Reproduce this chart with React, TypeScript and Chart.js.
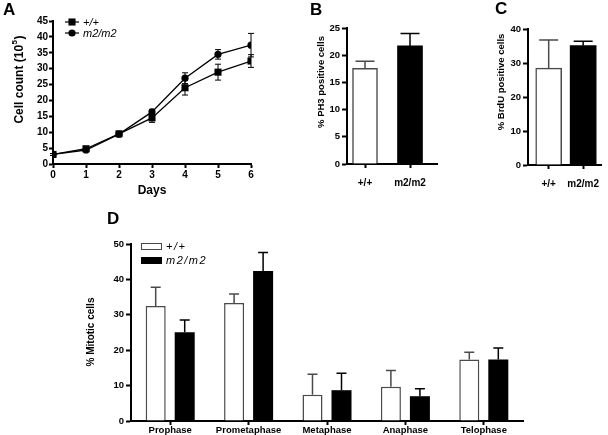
import React, { useEffect, useRef } from 'react';
import { Chart, registerables } from 'chart.js';

Chart.register(...registerables);

const FONT = '"Liberation Sans", Arial, Helvetica, sans-serif';

// ---------- Panel A : growth curve ----------
const days = [0, 1, 2, 3, 4, 5, 6];
const genotypes = ['+/+', 'm2/m2'];
const wtCount = [3.0, 4.8, 9.5, 14.5, 24.0, 28.9, 32.4];
const wtCountErr = [0.3, 0.4, 0.6, 1.4, 2.3, 2.5, 2.0];
const mutCount = [3.0, 4.4, 9.4, 16.4, 27.0, 34.5, 37.4];
const mutCountErr = [0.3, 0.4, 0.5, 0.8, 1.7, 1.5, 3.7];

// ---------- Panel B : PH3 ----------
const ph3Pct = [17.6, 21.7];
const ph3Err = [1.3, 2.3];

// ---------- Panel C : BrdU ----------
const brduPct = [28.5, 35.1];
const brduErr = [8.3, 1.3];

// ---------- Panel D : mitotic phases ----------
const phases = ['Prophase', 'Prometaphase', 'Metaphase', 'Anaphase', 'Telophase'];
const wtMitotic = [32.5, 33.3, 7.4, 9.7, 17.4];
const wtMitoticErr = [5.3, 2.6, 5.8, 4.6, 2.0];
const mutMitotic = [25.1, 42.4, 8.7, 7.0, 17.4];
const mutMitoticErr = [3.4, 5.2, 4.8, 2.1, 3.2];

const WHITE_EDGE = '#4a4a4a';

function drawErrBars(chart: any) {
  const ctx = chart.ctx;
  const ys = chart.scales.y;
  chart.data.datasets.forEach((ds: any, di: number) => {
    if (!ds.errors) return;
    const meta = chart.getDatasetMeta(di);
    meta.data.forEach((el: any, i: number) => {
      const raw = ds.data[i];
      const v = typeof raw === 'number' ? raw : raw.y;
      const e = ds.errors[i];
      if (!e) return;
      const color = Array.isArray(ds.errColor) ? ds.errColor[i] : ds.errColor;
      const cap = ds.errCap / 2;
      const top = ys.getPixelForValue(v + e);
      const bottom = ds.errBoth ? ys.getPixelForValue(v - e) : el.y;
      ctx.save();
      ctx.strokeStyle = color;
      ctx.lineWidth = ds.errWidth || 1;
      ctx.beginPath();
      ctx.moveTo(el.x, bottom);
      ctx.lineTo(el.x, top);
      ctx.moveTo(el.x - cap, top);
      ctx.lineTo(el.x + cap, top);
      if (ds.errBoth) {
        ctx.moveTo(el.x - cap, bottom);
        ctx.lineTo(el.x + cap, bottom);
      }
      ctx.stroke();
      ctx.restore();
    });
  });
}

const errBarsPlugin = {
  id: 'errBars',
  beforeDatasetsDraw(chart: any) {
    if (chart.config.type === 'line') drawErrBars(chart);
  },
  afterDatasetsDraw(chart: any) {
    if (chart.config.type !== 'line') drawErrBars(chart);
  },
};

const yTitlePlugin = {
  id: 'yTitle',
  afterDraw(chart: any) {
    const o = chart.config.options.plugins && chart.config.options.plugins.yTitle;
    if (!o) return;
    const ctx = chart.ctx;
    ctx.save();
    ctx.translate(o.x, o.y);
    ctx.rotate(-Math.PI / 2);
    ctx.fillStyle = '#000';
    ctx.textBaseline = 'middle';
    const main = `bold ${o.size}px ${FONT}`;
    const small = `bold ${Math.round(o.size * 0.65)}px ${FONT}`;
    ctx.font = main;
    const w1 = ctx.measureText(o.text).width;
    let w2 = 0;
    let w3 = 0;
    if (o.sup) {
      ctx.font = small;
      w2 = ctx.measureText(o.sup).width;
      ctx.font = main;
      w3 = ctx.measureText(o.after).width;
    }
    let x0 = -(w1 + w2 + w3) / 2;
    ctx.textAlign = 'left';
    ctx.font = main;
    ctx.fillText(o.text, x0, 0);
    if (o.sup) {
      x0 += w1;
      ctx.font = small;
      ctx.fillText(o.sup, x0 + 0.5, -o.size * 0.4);
      x0 += w2 + 1;
      ctx.font = main;
      ctx.fillText(o.after, x0, 0);
    }
    ctx.restore();
  },
};

const lineKeyPlugin = {
  id: 'lineKey',
  afterDraw(chart: any) {
    const o = chart.config.options.plugins && chart.config.options.plugins.lineKey;
    if (!o) return;
    const ctx = chart.ctx;
    chart.data.datasets.forEach((ds: any, i: number) => {
      const yy = o.y + i * o.gap;
      ctx.save();
      ctx.strokeStyle = '#000';
      ctx.lineWidth = 1.2;
      ctx.beginPath();
      ctx.moveTo(o.x1, yy);
      ctx.lineTo(o.x2, yy);
      ctx.stroke();
      ctx.fillStyle = '#000';
      const cx = (o.x1 + o.x2) / 2;
      if (ds.pointStyle === 'rect') {
        const s = ds.pointRadius * Math.SQRT1_2;
        ctx.fillRect(cx - s, yy - s, 2 * s, 2 * s);
      } else {
        ctx.beginPath();
        ctx.arc(cx, yy, ds.pointRadius, 0, Math.PI * 2);
        ctx.fill();
      }
      ctx.font = `italic ${o.size}px ${FONT}`;
      ctx.textBaseline = 'middle';
      ctx.textAlign = 'left';
      ctx.fillText(ds.label, o.textX, yy + 0.5);
      ctx.restore();
    });
  },
};

const boxKeyPlugin = {
  id: 'boxKey',
  afterDraw(chart: any) {
    const o = chart.config.options.plugins && chart.config.options.plugins.boxKey;
    if (!o) return;
    const ctx = chart.ctx;
    chart.data.datasets.forEach((ds: any, i: number) => {
      const yy = o.y + i * o.gap;
      ctx.save();
      ctx.fillStyle = ds.backgroundColor;
      ctx.fillRect(o.x, yy, o.w, o.h);
      ctx.strokeStyle = ds.borderColor;
      ctx.lineWidth = 1;
      ctx.strokeRect(o.x + 0.5, yy + 0.5, o.w - 1, o.h - 1);
      ctx.fillStyle = '#000';
      ctx.font = `italic ${o.size}px ${FONT}`;
      (ctx as any).letterSpacing = o.spacing + 'px';
      ctx.textBaseline = 'middle';
      ctx.textAlign = 'left';
      ctx.fillText(ds.label, o.textX, yy + o.h / 2 + 0.5);
      ctx.restore();
    });
  },
};

const PLUGINS = [errBarsPlugin, yTitlePlugin, lineKeyPlugin, boxKeyPlugin];

function tickFont(size: number) {
  return { family: FONT, size, weight: 'bold' as const };
}

function yAxis(max: number, step: number, width: number, size: number, tl: number, pad: number) {
  return {
    min: 0,
    max,
    ticks: { stepSize: step, color: '#000', font: tickFont(size), padding: pad },
    grid: { display: true, drawOnChartArea: false, color: '#000', tickLength: tl, tickWidth: 2 },
    border: { display: true, color: '#000', width: 2 },
    afterFit: (s: any) => {
      s.width = width;
    },
  };
}

function baseOptions(padding: any) {
  return {
    responsive: false,
    animation: false as const,
    events: [] as any[],
    layout: { padding },
  };
}

function makeA() {
  return {
    type: 'line',
    data: {
      datasets: [
        {
          label: genotypes[0],
          data: days.map((d, i) => ({ x: d, y: wtCount[i] })),
          borderColor: '#000',
          borderWidth: 1.3,
          pointStyle: 'rect',
          pointRadius: 5,
          pointBackgroundColor: '#000',
          pointBorderWidth: 0,
          errors: wtCountErr,
          errColor: '#000',
          errCap: 6,
          errBoth: true,
          errWidth: 1,
        },
        {
          label: genotypes[1],
          data: days.map((d, i) => ({ x: d, y: mutCount[i] })),
          borderColor: '#000',
          borderWidth: 1.3,
          pointStyle: 'circle',
          pointRadius: 3.6,
          pointBackgroundColor: '#000',
          pointBorderWidth: 0,
          errors: mutCountErr,
          errColor: '#000',
          errCap: 6,
          errBoth: true,
          errWidth: 1,
        },
      ],
    },
    options: {
      ...baseOptions({ left: 0, right: 19, top: 21, bottom: 0 }),
      plugins: {
        legend: { display: false },
        tooltip: { enabled: false },
        yTitle: { text: 'Cell count (10', sup: '5', after: ')', x: 20, y: 80, size: 12 },
        lineKey: { x1: 65, x2: 79, y: 22, gap: 11, textX: 83, size: 11 },
      },
      scales: {
        x: {
          type: 'linear',
          min: 0,
          max: 6,
          ticks: { stepSize: 1, color: '#000', font: tickFont(10), padding: 1, maxRotation: 0 },
          grid: { display: true, drawOnChartArea: false, color: '#000', tickLength: 4, tickWidth: 2 },
          border: { display: true, color: '#000', width: 2 },
          title: {
            display: true,
            text: 'Days',
            color: '#000',
            font: { family: FONT, size: 12, weight: 'bold' },
            padding: { top: 0, bottom: 2 },
          },
          afterFit: (s: any) => {
            s.height = 36;
          },
        },
        y: yAxis(45, 5, 53, 10, 4, 1),
      },
    },
    plugins: PLUGINS,
  } as any;
}

function makeSmallBar(values: number[], errs: number[], max: number, step: number, layout: any, title: any, caps: number[]) {
  return {
    type: 'bar',
    data: {
      datasets: [
        {
          data: values.map((v, i) => ({ x: i, y: v })),
          backgroundColor: ['#ffffff', '#000000'],
          borderColor: [WHITE_EDGE, '#000000'],
          borderWidth: [1.5, 0],
          borderSkipped: 'bottom',
          barThickness: layout.bar,
          errors: errs,
          errColor: [WHITE_EDGE, '#000'],
          errCap: caps[0],
          errWidth: 1.5,
        },
      ],
    },
    options: {
      ...baseOptions({ left: 0, right: layout.right, top: layout.top, bottom: 0 }),
      plugins: {
        legend: { display: false },
        tooltip: { enabled: false },
        yTitle: title,
      },
      scales: {
        x: {
          type: 'linear',
          min: layout.xmin,
          max: layout.xmax,
          offset: false,
          afterBuildTicks: (s: any) => {
            s.ticks = genotypes.map((_, i) => ({ value: i }));
          },
          ticks: {
            autoSkip: false,
            maxRotation: 0,
            color: '#000',
            font: tickFont(10),
            padding: 9,
            callback: (v: any) => genotypes[v] ?? '',
          },
          grid: { display: true, offset: false, drawOnChartArea: false, color: '#000', tickLength: 4, tickWidth: 2 },
          border: { display: true, color: '#000', width: 2 },
          afterFit: (s: any) => {
            s.height = layout.xh;
          },
        },
        y: yAxis(max, step, layout.left, 9.5, 5, 2),
      },
    },
    plugins: PLUGINS,
  } as any;
}

function makeB() {
  return makeSmallBar(
    ph3Pct,
    ph3Err,
    25,
    5,
    { left: 67, right: 23, top: 28, xh: 36, xmin: -0.4, xmax: 1.6, bar: 25 },
    { text: '% PH3 positive cells', x: 41, y: 82, size: 9.5 },
    [19]
  );
}

function makeC() {
  return makeSmallBar(
    brduPct,
    brduErr,
    40,
    10,
    { left: 68, right: 0, top: 29, xh: 35, xmin: -0.6, xmax: 1.533, bar: 26 },
    { text: '% BrdU positive cells', x: 41, y: 82, size: 9.5 },
    [19]
  );
}

function makeD() {
  return {
    type: 'bar',
    data: {
      labels: phases,
      datasets: [
        {
          label: genotypes[0],
          data: wtMitotic,
          backgroundColor: '#ffffff',
          borderColor: WHITE_EDGE,
          borderWidth: 1.5,
          borderSkipped: 'bottom',
          categoryPercentage: 0.74,
          barPercentage: 0.69,
          errors: wtMitoticErr,
          errColor: WHITE_EDGE,
          errCap: 10,
          errWidth: 1.5,
        },
        {
          label: genotypes[1],
          data: mutMitotic,
          backgroundColor: '#000000',
          borderColor: '#000000',
          borderWidth: 0,
          categoryPercentage: 0.74,
          barPercentage: 0.69,
          errors: mutMitoticErr,
          errColor: '#000',
          errCap: 10,
          errWidth: 1.5,
        },
      ],
    },
    options: {
      ...baseOptions({ left: 0, right: 85, top: 29, bottom: 0 }),
      plugins: {
        legend: { display: false },
        tooltip: { enabled: false },
        yTitle: { text: '% Mitotic cells', x: 91, y: 117, size: 10 },
        boxKey: { x: 141, y: 28, w: 21, h: 7, gap: 14, textX: 166, size: 11, spacing: 1.5 },
      },
      scales: {
        x: {
          type: 'category',
          offset: true,
          ticks: { autoSkip: false, maxRotation: 0, color: '#000', font: tickFont(9.5), padding: 0 },
          grid: { display: true, offset: false, drawOnChartArea: false, color: '#000', tickLength: 4, tickWidth: 2 },
          border: { display: true, color: '#000', width: 2 },
          afterFit: (s: any) => {
            s.height = 14;
          },
        },
        y: yAxis(50, 10, 131, 9.5, 5, 2),
      },
    },
    plugins: PLUGINS,
  } as any;
}

function ChartCanvas({ x, y, w, h, make }: { x: number; y: number; w: number; h: number; make: () => any }) {
  const ref = useRef<HTMLCanvasElement>(null);
  useEffect(() => {
    const chart = new Chart(ref.current as HTMLCanvasElement, make());
    return () => chart.destroy();
  }, []);
  return (
    <canvas
      ref={ref}
      width={w}
      height={h}
      style={{ position: 'absolute', left: x, top: y, width: w, height: h, display: 'block' }}
    />
  );
}

const letterStyle = (left: number, top: number): React.CSSProperties => ({
  position: 'absolute',
  left,
  top,
  fontFamily: FONT,
  fontWeight: 'bold',
  fontSize: 17,
  lineHeight: '17px',
  color: '#000',
});

export default function App() {
  return (
    <div
      style={{
        position: 'absolute',
        left: 0,
        top: 0,
        width: 608,
        height: 435,
        background: '#fff',
        overflow: 'hidden',
      }}
    >
      <ChartCanvas x={0} y={0} w={270} h={200} make={makeA} />
      <ChartCanvas x={280} y={0} w={180} h={200} make={makeB} />
      <ChartCanvas x={460} y={0} w={148} h={200} make={makeC} />
      <ChartCanvas x={0} y={215} w={608} h={220} make={makeD} />
      <div style={letterStyle(3, 1)}>A</div>
      <div style={letterStyle(310, 1)}>B</div>
      <div style={letterStyle(495, 0)}>C</div>
      <div style={letterStyle(107, 210)}>D</div>
    </div>
  );
}
